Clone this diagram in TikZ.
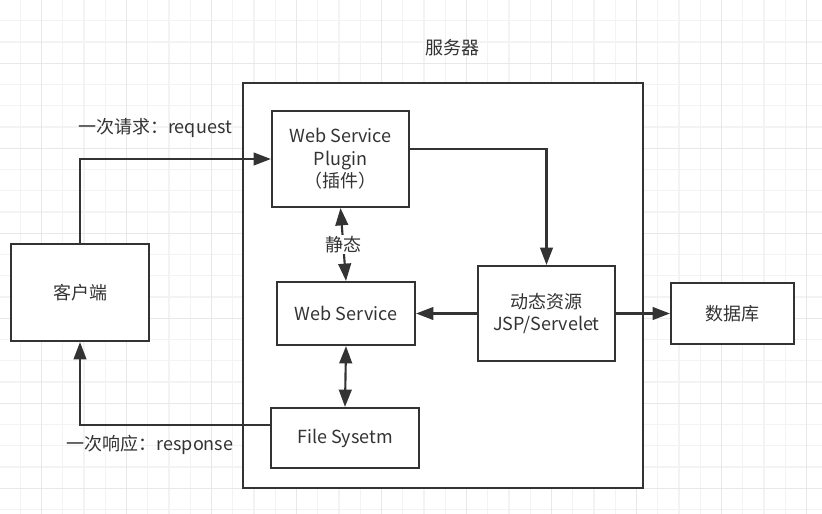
\documentclass[tikz,border=0pt]{standalone}
\usepackage{fontspec}
\setmainfont{Noto Sans CJK SC}
\usepackage{xcolor}
\usepackage{tikz}
\usetikzlibrary{arrows.meta,positioning,calc}

\definecolor{ink}{HTML}{333333}
\definecolor{gridminor}{HTML}{F3F3F3}
\definecolor{gridmajor}{HTML}{E8E8E8}

\begin{document}
\begin{tikzpicture}[x=0.75pt, y=-0.75pt,
    every node/.style={font=\fontsize{13.5}{17}\selectfont, text=ink},
    box/.style={draw=ink, line width=1.6pt, fill=white, inner sep=0pt, align=center},
    arr/.style={draw=ink, line width=1.6pt, -{Triangle[length=13pt, width=9.5pt]}},
    biarr/.style={draw=ink, line width=1.6pt, {Triangle[length=13pt, width=9.5pt]}-{Triangle[length=13pt, width=9.5pt]}}]
  \useasboundingbox (0,0) rectangle (822,514);
  % background grid
  \begin{scope}
    \clip (0,0) rectangle (822,514);
    \fill[white] (0,0) rectangle (822,514);
    \foreach \k in {0,...,39} {
      \draw[gridminor, line width=0.8pt] ({21.25*\k-1},0) -- ({21.25*\k-1},514);
    }
    \foreach \k in {0,...,24} {
      \draw[gridminor, line width=0.8pt] (0,{21.25*\k-0.5}) -- (822,{21.25*\k-0.5});
    }
    \foreach \k in {0,...,9} {
      \draw[gridmajor, line width=0.8pt] ({85*\k+41.5},0) -- ({85*\k+41.5},514);
    }
    \foreach \k in {0,...,5} {
      \draw[gridmajor, line width=0.8pt] (0,{85*\k+63.3}) -- (822,{85*\k+63.3});
    }
  \end{scope}

  % server frame
  \node[box, minimum width=300pt, minimum height=303.75pt] (srv) at (443,285.5) {};
  \node (srvlbl) at (452,48) {服务器};

  \node[box, minimum width=102.75pt, minimum height=72pt] (plug) at (340.5,159)
       {Web Service\\Plugin\\（插件）};
  \node[box, minimum width=103.5pt, minimum height=47.25pt] (ws) at (346,313.5) {Web Service};
  \node[box, minimum width=111pt, minimum height=45pt] (fs) at (345,438) {File Sysetm};
  \node[box, minimum width=102.75pt, minimum height=71.25pt] (dyn) at (546.5,313.5)
       {动态资源\\JSP/Servelet};
  \node[box, minimum width=92.25pt, minimum height=45.75pt] (db) at (732.5,313.5) {数据库};
  \node[box, minimum width=103.5pt, minimum height=72.75pt] (cli) at (80,292.5) {客户端};

  \draw[arr] (cli.north) |- (plug.west);
  \node (req) at (155,128) {一次请求：request};
  \draw[arr] ($(plug.east)+(0,-10)$) -| (dyn.north);
  \draw[biarr] (plug.south) -- node[fill=white, inner sep=1pt] (static) {静态} (ws.north);
  \draw[arr] (dyn.west) -- (ws.east);
  \draw[arr] (dyn.east) -- (db.west);
  \draw[biarr] (ws.south) -- (fs.north);
  \draw[arr] ($(fs.west)+(0,-13)$) -| (cli.south);
  \node (resp) at (150,445) {一次响应：response};
\end{tikzpicture}
\end{document}
